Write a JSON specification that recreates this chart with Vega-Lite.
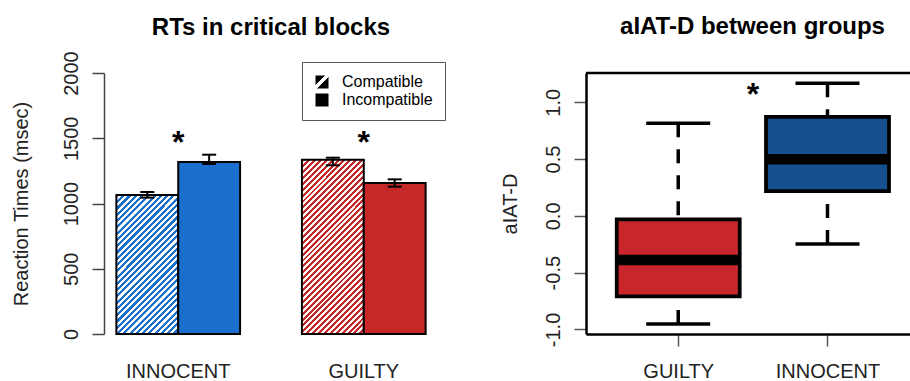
{
  "$schema": "https://vega.github.io/schema/vega-lite/v6.json",
  "background": "white",
  "padding": {"left": 10, "top": 14, "right": 0, "bottom": 0},
  "spacing": 148,
  "bounds": "flush",
  "config": {
    "font": "Liberation Sans",
    "view": {"stroke": null},
    "axis": {"labelFont": "Liberation Sans", "titleFont": "Liberation Sans", "grid": false, "labelFontSize": 20, "titleFontSize": 20, "titleFontWeight": "normal", "labelColor": "#222", "titleColor": "#222", "labelOverlap": false},
    "title": {"font": "Liberation Sans", "fontSize": 24, "fontWeight": "bold", "color": "black"}
  },
  "hconcat": [
    {
      "width": 334,
      "height": 261,
      "title": {"text": "RTs in critical blocks", "frame": "group", "anchor": "middle", "baseline": "alphabetic", "offset": -8},
      "data": {"values": [
        {"group": "INNOCENT", "block": "Compatible", "rt": 1065, "lo": 1045, "hi": 1088},
        {"group": "INNOCENT", "block": "Incompatible", "rt": 1318, "lo": 1303, "hi": 1374},
        {"group": "GUILTY", "block": "Compatible", "rt": 1335, "lo": 1293, "hi": 1351},
        {"group": "GUILTY", "block": "Incompatible", "rt": 1157, "lo": 1129, "hi": 1185}
      ]},
      "layer": [
        {
          "mark": {"type": "bar", "stroke": "black", "strokeWidth": 2, "strokeJoin": "miter", "opacity": 1},
          "encoding": {
            "x": {"field": "group", "type": "nominal", "sort": ["INNOCENT", "GUILTY"], "title": null,
                  "scale": {"paddingInner": 0.3333, "paddingOuter": 0.0667},
                  "axis": {"ticks": false, "tickSize": 0, "domain": false, "labelAngle": 0, "labelBaseline": "alphabetic", "labelPadding": 43.7}},
            "xOffset": {"field": "block", "type": "nominal", "sort": ["Compatible", "Incompatible"], "scale": {"paddingInner": 0, "paddingOuter": 0}},
            "y": {"field": "rt", "type": "quantitative", "title": "Reaction Times (msec)",
                  "scale": {"domain": [0, 2000], "nice": false},
                  "axis": {"values": [0, 500, 1000, 1500, 2000], "format": "d", "tickSize": 12, "labelAngle": -90, "labelAlign": "center", "labelBaseline": "alphabetic", "labelPadding": 15, "domainColor": "#444", "tickColor": "#444", "domainWidth": 1.5, "tickWidth": 1.5, "titleX": -77, "titleY": 130.5, "titleAngle": -90, "titleAlign": "center", "titleBaseline": "alphabetic"}},
            "fill": {
              "condition": [
                {"test": "datum.group === 'INNOCENT' && datum.block === 'Compatible'", "value": {"gradient": "linear", "x1": 0, "y1": 0, "x2": 0.5371, "y2": 1.2061, "stops": [
                  {"offset":0,"color":"#1b6fcc"},
                  {"offset":0.0156,"color":"#1b6fcc"},{"offset":0.0156,"color":"#fff"},
                  {"offset":0.0313,"color":"#fff"},{"offset":0.0313,"color":"#1b6fcc"},
                  {"offset":0.0469,"color":"#1b6fcc"},{"offset":0.0469,"color":"#fff"},
                  {"offset":0.0625,"color":"#fff"},{"offset":0.0625,"color":"#1b6fcc"},
                  {"offset":0.0781,"color":"#1b6fcc"},{"offset":0.0781,"color":"#fff"},
                  {"offset":0.0938,"color":"#fff"},{"offset":0.0938,"color":"#1b6fcc"},
                  {"offset":0.1094,"color":"#1b6fcc"},{"offset":0.1094,"color":"#fff"},
                  {"offset":0.125,"color":"#fff"},{"offset":0.125,"color":"#1b6fcc"},
                  {"offset":0.1406,"color":"#1b6fcc"},{"offset":0.1406,"color":"#fff"},
                  {"offset":0.1563,"color":"#fff"},{"offset":0.1563,"color":"#1b6fcc"},
                  {"offset":0.1719,"color":"#1b6fcc"},{"offset":0.1719,"color":"#fff"},
                  {"offset":0.1875,"color":"#fff"},{"offset":0.1875,"color":"#1b6fcc"},
                  {"offset":0.2031,"color":"#1b6fcc"},{"offset":0.2031,"color":"#fff"},
                  {"offset":0.2188,"color":"#fff"},{"offset":0.2188,"color":"#1b6fcc"},
                  {"offset":0.2344,"color":"#1b6fcc"},{"offset":0.2344,"color":"#fff"},
                  {"offset":0.25,"color":"#fff"},{"offset":0.25,"color":"#1b6fcc"},
                  {"offset":0.2656,"color":"#1b6fcc"},{"offset":0.2656,"color":"#fff"},
                  {"offset":0.2813,"color":"#fff"},{"offset":0.2813,"color":"#1b6fcc"},
                  {"offset":0.2969,"color":"#1b6fcc"},{"offset":0.2969,"color":"#fff"},
                  {"offset":0.3125,"color":"#fff"},{"offset":0.3125,"color":"#1b6fcc"},
                  {"offset":0.3281,"color":"#1b6fcc"},{"offset":0.3281,"color":"#fff"},
                  {"offset":0.3438,"color":"#fff"},{"offset":0.3438,"color":"#1b6fcc"},
                  {"offset":0.3594,"color":"#1b6fcc"},{"offset":0.3594,"color":"#fff"},
                  {"offset":0.375,"color":"#fff"},{"offset":0.375,"color":"#1b6fcc"},
                  {"offset":0.3906,"color":"#1b6fcc"},{"offset":0.3906,"color":"#fff"},
                  {"offset":0.4063,"color":"#fff"},{"offset":0.4063,"color":"#1b6fcc"},
                  {"offset":0.4219,"color":"#1b6fcc"},{"offset":0.4219,"color":"#fff"},
                  {"offset":0.4375,"color":"#fff"},{"offset":0.4375,"color":"#1b6fcc"},
                  {"offset":0.4531,"color":"#1b6fcc"},{"offset":0.4531,"color":"#fff"},
                  {"offset":0.4688,"color":"#fff"},{"offset":0.4688,"color":"#1b6fcc"},
                  {"offset":0.4844,"color":"#1b6fcc"},{"offset":0.4844,"color":"#fff"},
                  {"offset":0.5,"color":"#fff"},{"offset":0.5,"color":"#1b6fcc"},
                  {"offset":0.5156,"color":"#1b6fcc"},{"offset":0.5156,"color":"#fff"},
                  {"offset":0.5313,"color":"#fff"},{"offset":0.5313,"color":"#1b6fcc"},
                  {"offset":0.5469,"color":"#1b6fcc"},{"offset":0.5469,"color":"#fff"},
                  {"offset":0.5625,"color":"#fff"},{"offset":0.5625,"color":"#1b6fcc"},
                  {"offset":0.5781,"color":"#1b6fcc"},{"offset":0.5781,"color":"#fff"},
                  {"offset":0.5938,"color":"#fff"},{"offset":0.5938,"color":"#1b6fcc"},
                  {"offset":0.6094,"color":"#1b6fcc"},{"offset":0.6094,"color":"#fff"},
                  {"offset":0.625,"color":"#fff"},{"offset":0.625,"color":"#1b6fcc"},
                  {"offset":0.6406,"color":"#1b6fcc"},{"offset":0.6406,"color":"#fff"},
                  {"offset":0.6563,"color":"#fff"},{"offset":0.6563,"color":"#1b6fcc"},
                  {"offset":0.6719,"color":"#1b6fcc"},{"offset":0.6719,"color":"#fff"},
                  {"offset":0.6875,"color":"#fff"},{"offset":0.6875,"color":"#1b6fcc"},
                  {"offset":0.7031,"color":"#1b6fcc"},{"offset":0.7031,"color":"#fff"},
                  {"offset":0.7188,"color":"#fff"},{"offset":0.7188,"color":"#1b6fcc"},
                  {"offset":0.7344,"color":"#1b6fcc"},{"offset":0.7344,"color":"#fff"},
                  {"offset":0.75,"color":"#fff"},{"offset":0.75,"color":"#1b6fcc"},
                  {"offset":0.7656,"color":"#1b6fcc"},{"offset":0.7656,"color":"#fff"},
                  {"offset":0.7813,"color":"#fff"},{"offset":0.7813,"color":"#1b6fcc"},
                  {"offset":0.7969,"color":"#1b6fcc"},{"offset":0.7969,"color":"#fff"},
                  {"offset":0.8125,"color":"#fff"},{"offset":0.8125,"color":"#1b6fcc"},
                  {"offset":0.8281,"color":"#1b6fcc"},{"offset":0.8281,"color":"#fff"},
                  {"offset":0.8438,"color":"#fff"},{"offset":0.8438,"color":"#1b6fcc"},
                  {"offset":0.8594,"color":"#1b6fcc"},{"offset":0.8594,"color":"#fff"},
                  {"offset":0.875,"color":"#fff"},{"offset":0.875,"color":"#1b6fcc"},
                  {"offset":0.8906,"color":"#1b6fcc"},{"offset":0.8906,"color":"#fff"},
                  {"offset":0.9063,"color":"#fff"},{"offset":0.9063,"color":"#1b6fcc"},
                  {"offset":0.9219,"color":"#1b6fcc"},{"offset":0.9219,"color":"#fff"},
                  {"offset":0.9375,"color":"#fff"},{"offset":0.9375,"color":"#1b6fcc"},
                  {"offset":0.9531,"color":"#1b6fcc"},{"offset":0.9531,"color":"#fff"},
                  {"offset":0.9688,"color":"#fff"},{"offset":0.9688,"color":"#1b6fcc"},
                  {"offset":0.9844,"color":"#1b6fcc"},{"offset":0.9844,"color":"#fff"},
                  {"offset":1,"color":"#fff"}
                ]}},
                {"test": "datum.group === 'GUILTY' && datum.block === 'Compatible'", "value": {"gradient": "linear", "x1": 0, "y1": 0, "x2": 0.4276, "y2": 1.2033, "stops": [
                  {"offset":0,"color":"#c62828"},
                  {"offset":0.0125,"color":"#c62828"},{"offset":0.0125,"color":"#fff"},
                  {"offset":0.025,"color":"#fff"},{"offset":0.025,"color":"#c62828"},
                  {"offset":0.0375,"color":"#c62828"},{"offset":0.0375,"color":"#fff"},
                  {"offset":0.05,"color":"#fff"},{"offset":0.05,"color":"#c62828"},
                  {"offset":0.0625,"color":"#c62828"},{"offset":0.0625,"color":"#fff"},
                  {"offset":0.075,"color":"#fff"},{"offset":0.075,"color":"#c62828"},
                  {"offset":0.0875,"color":"#c62828"},{"offset":0.0875,"color":"#fff"},
                  {"offset":0.1,"color":"#fff"},{"offset":0.1,"color":"#c62828"},
                  {"offset":0.1125,"color":"#c62828"},{"offset":0.1125,"color":"#fff"},
                  {"offset":0.125,"color":"#fff"},{"offset":0.125,"color":"#c62828"},
                  {"offset":0.1375,"color":"#c62828"},{"offset":0.1375,"color":"#fff"},
                  {"offset":0.15,"color":"#fff"},{"offset":0.15,"color":"#c62828"},
                  {"offset":0.1625,"color":"#c62828"},{"offset":0.1625,"color":"#fff"},
                  {"offset":0.175,"color":"#fff"},{"offset":0.175,"color":"#c62828"},
                  {"offset":0.1875,"color":"#c62828"},{"offset":0.1875,"color":"#fff"},
                  {"offset":0.2,"color":"#fff"},{"offset":0.2,"color":"#c62828"},
                  {"offset":0.2125,"color":"#c62828"},{"offset":0.2125,"color":"#fff"},
                  {"offset":0.225,"color":"#fff"},{"offset":0.225,"color":"#c62828"},
                  {"offset":0.2375,"color":"#c62828"},{"offset":0.2375,"color":"#fff"},
                  {"offset":0.25,"color":"#fff"},{"offset":0.25,"color":"#c62828"},
                  {"offset":0.2625,"color":"#c62828"},{"offset":0.2625,"color":"#fff"},
                  {"offset":0.275,"color":"#fff"},{"offset":0.275,"color":"#c62828"},
                  {"offset":0.2875,"color":"#c62828"},{"offset":0.2875,"color":"#fff"},
                  {"offset":0.3,"color":"#fff"},{"offset":0.3,"color":"#c62828"},
                  {"offset":0.3125,"color":"#c62828"},{"offset":0.3125,"color":"#fff"},
                  {"offset":0.325,"color":"#fff"},{"offset":0.325,"color":"#c62828"},
                  {"offset":0.3375,"color":"#c62828"},{"offset":0.3375,"color":"#fff"},
                  {"offset":0.35,"color":"#fff"},{"offset":0.35,"color":"#c62828"},
                  {"offset":0.3625,"color":"#c62828"},{"offset":0.3625,"color":"#fff"},
                  {"offset":0.375,"color":"#fff"},{"offset":0.375,"color":"#c62828"},
                  {"offset":0.3875,"color":"#c62828"},{"offset":0.3875,"color":"#fff"},
                  {"offset":0.4,"color":"#fff"},{"offset":0.4,"color":"#c62828"},
                  {"offset":0.4125,"color":"#c62828"},{"offset":0.4125,"color":"#fff"},
                  {"offset":0.425,"color":"#fff"},{"offset":0.425,"color":"#c62828"},
                  {"offset":0.4375,"color":"#c62828"},{"offset":0.4375,"color":"#fff"},
                  {"offset":0.45,"color":"#fff"},{"offset":0.45,"color":"#c62828"},
                  {"offset":0.4625,"color":"#c62828"},{"offset":0.4625,"color":"#fff"},
                  {"offset":0.475,"color":"#fff"},{"offset":0.475,"color":"#c62828"},
                  {"offset":0.4875,"color":"#c62828"},{"offset":0.4875,"color":"#fff"},
                  {"offset":0.5,"color":"#fff"},{"offset":0.5,"color":"#c62828"},
                  {"offset":0.5125,"color":"#c62828"},{"offset":0.5125,"color":"#fff"},
                  {"offset":0.525,"color":"#fff"},{"offset":0.525,"color":"#c62828"},
                  {"offset":0.5375,"color":"#c62828"},{"offset":0.5375,"color":"#fff"},
                  {"offset":0.55,"color":"#fff"},{"offset":0.55,"color":"#c62828"},
                  {"offset":0.5625,"color":"#c62828"},{"offset":0.5625,"color":"#fff"},
                  {"offset":0.575,"color":"#fff"},{"offset":0.575,"color":"#c62828"},
                  {"offset":0.5875,"color":"#c62828"},{"offset":0.5875,"color":"#fff"},
                  {"offset":0.6,"color":"#fff"},{"offset":0.6,"color":"#c62828"},
                  {"offset":0.6125,"color":"#c62828"},{"offset":0.6125,"color":"#fff"},
                  {"offset":0.625,"color":"#fff"},{"offset":0.625,"color":"#c62828"},
                  {"offset":0.6375,"color":"#c62828"},{"offset":0.6375,"color":"#fff"},
                  {"offset":0.65,"color":"#fff"},{"offset":0.65,"color":"#c62828"},
                  {"offset":0.6625,"color":"#c62828"},{"offset":0.6625,"color":"#fff"},
                  {"offset":0.675,"color":"#fff"},{"offset":0.675,"color":"#c62828"},
                  {"offset":0.6875,"color":"#c62828"},{"offset":0.6875,"color":"#fff"},
                  {"offset":0.7,"color":"#fff"},{"offset":0.7,"color":"#c62828"},
                  {"offset":0.7125,"color":"#c62828"},{"offset":0.7125,"color":"#fff"},
                  {"offset":0.725,"color":"#fff"},{"offset":0.725,"color":"#c62828"},
                  {"offset":0.7375,"color":"#c62828"},{"offset":0.7375,"color":"#fff"},
                  {"offset":0.75,"color":"#fff"},{"offset":0.75,"color":"#c62828"},
                  {"offset":0.7625,"color":"#c62828"},{"offset":0.7625,"color":"#fff"},
                  {"offset":0.775,"color":"#fff"},{"offset":0.775,"color":"#c62828"},
                  {"offset":0.7875,"color":"#c62828"},{"offset":0.7875,"color":"#fff"},
                  {"offset":0.8,"color":"#fff"},{"offset":0.8,"color":"#c62828"},
                  {"offset":0.8125,"color":"#c62828"},{"offset":0.8125,"color":"#fff"},
                  {"offset":0.825,"color":"#fff"},{"offset":0.825,"color":"#c62828"},
                  {"offset":0.8375,"color":"#c62828"},{"offset":0.8375,"color":"#fff"},
                  {"offset":0.85,"color":"#fff"},{"offset":0.85,"color":"#c62828"},
                  {"offset":0.8625,"color":"#c62828"},{"offset":0.8625,"color":"#fff"},
                  {"offset":0.875,"color":"#fff"},{"offset":0.875,"color":"#c62828"},
                  {"offset":0.8875,"color":"#c62828"},{"offset":0.8875,"color":"#fff"},
                  {"offset":0.9,"color":"#fff"},{"offset":0.9,"color":"#c62828"},
                  {"offset":0.9125,"color":"#c62828"},{"offset":0.9125,"color":"#fff"},
                  {"offset":0.925,"color":"#fff"},{"offset":0.925,"color":"#c62828"},
                  {"offset":0.9375,"color":"#c62828"},{"offset":0.9375,"color":"#fff"},
                  {"offset":0.95,"color":"#fff"},{"offset":0.95,"color":"#c62828"},
                  {"offset":0.9625,"color":"#c62828"},{"offset":0.9625,"color":"#fff"},
                  {"offset":0.975,"color":"#fff"},{"offset":0.975,"color":"#c62828"},
                  {"offset":0.9875,"color":"#c62828"},{"offset":0.9875,"color":"#fff"},
                  {"offset":1,"color":"#fff"}
                ]}},
                {"test": "datum.group === 'INNOCENT'", "value": "#1b6fcc"}
              ],
              "value": "#c62828"
            }
          }
        },
        {
          "mark": {"type": "rule", "color": "black", "strokeWidth": 2, "opacity": 1},
          "encoding": {
            "x": {"field": "group", "type": "nominal", "sort": ["INNOCENT", "GUILTY"], "title": null},
            "xOffset": {"field": "block", "type": "nominal", "sort": ["Compatible", "Incompatible"]},
            "y": {"field": "lo", "type": "quantitative", "title": "Reaction Times (msec)"},
            "y2": {"field": "hi"}
          }
        },
        {
          "mark": {"type": "tick", "orient": "horizontal", "color": "black", "size": 14, "thickness": 2, "opacity": 1},
          "encoding": {
            "x": {"field": "group", "type": "nominal", "sort": ["INNOCENT", "GUILTY"], "title": null},
            "xOffset": {"field": "block", "type": "nominal", "sort": ["Compatible", "Incompatible"]},
            "y": {"field": "lo", "type": "quantitative", "title": "Reaction Times (msec)"}
          }
        },
        {
          "mark": {"type": "tick", "orient": "horizontal", "color": "black", "size": 14, "thickness": 2, "opacity": 1},
          "encoding": {
            "x": {"field": "group", "type": "nominal", "sort": ["INNOCENT", "GUILTY"], "title": null},
            "xOffset": {"field": "block", "type": "nominal", "sort": ["Compatible", "Incompatible"]},
            "y": {"field": "hi", "type": "quantitative", "title": "Reaction Times (msec)"}
          }
        },
        {
          "mark": {"type": "text", "font": "Liberation Sans", "fontSize": 16},
          "encoding": {
            "x": {"field": "group", "type": "nominal", "sort": ["INNOCENT", "GUILTY"], "title": null},
            "y": {"field": "rt", "type": "quantitative", "title": "Reaction Times (msec)"},
            "text": {"value": ""},
            "fill": {
              "field": "block", "type": "nominal", "sort": ["Compatible", "Incompatible"],
              "scale": {"domain": ["Compatible", "Incompatible"], "range": [
                {"expr": "{gradient: 'linear', x1: 0, y1: 0, x2: 1, y2: 1, stops: [{offset: 0, color: 'black'}, {offset: 0.36, color: 'black'}, {offset: 0.36, color: 'white'}, {offset: 0.56, color: 'white'}, {offset: 0.56, color: 'black'}, {offset: 1, color: 'black'}]}"},
                "black"
              ]},
              "legend": {
                "title": null, "orient": "none", "legendX": 198, "legendY": -11,
                "symbolType": "square", "symbolSize": 169, "symbolStrokeWidth": 0, "symbolOpacity": 1,
                "labelFont": "Liberation Sans", "labelFontSize": 16, "labelColor": "black", "labelOffset": 12,
                "padding": 12, "rowPadding": 2, "strokeColor": "#555", "fillColor": "white"
              }
            }
          }
        },
        {
          "data": {"values": [
            {"group": "INNOCENT", "ay": 1386, "label": "*"},
            {"group": "GUILTY", "ay": 1386, "label": "*"}
          ]},
          "mark": {"type": "text", "font": "Liberation Sans", "fontSize": 32, "fontWeight": "bold", "baseline": "alphabetic", "align": "center", "color": "black"},
          "encoding": {
            "x": {"field": "group", "type": "nominal", "sort": ["INNOCENT", "GUILTY"], "title": null},
            "y": {"field": "ay", "type": "quantitative", "title": "Reaction Times (msec)"},
            "text": {"field": "label"}
          }
        }
      ]
    },
    {
      "width": 325,
      "height": 261,
      "title": {"text": "aIAT-D between groups", "frame": "group", "anchor": "middle", "dx": 4, "baseline": "alphabetic", "offset": 14.2},
      "data": {"values": [
        {"group": "GUILTY", "pos": 1, "lo": -0.953, "q1": -0.708, "med": -0.388, "q3": -0.03, "hi": 0.815},
        {"group": "INNOCENT", "pos": 2, "lo": -0.247, "q1": 0.219, "med": 0.498, "q3": 0.871, "hi": 1.167}
      ]},
      "layer": [
        {
          "mark": {"type": "rule", "color": "black", "strokeWidth": 3.5, "strokeDash": [14, 12], "opacity": 1},
          "encoding": {
            "x": {"field": "pos", "type": "quantitative", "title": null,
                  "scale": {"domain": [0.4156, 2.526], "nice": false, "zero": false},
                  "axis": {"values": [1, 2], "labelExpr": "datum.value === 1 ? 'GUILTY' : 'INNOCENT'", "tickSize": 12, "tickColor": "#555", "tickWidth": 1.5, "domainColor": "black", "domainWidth": 2.5, "labelPadding": 31.7, "labelBaseline": "alphabetic", "labelFlush": false, "labelAngle": 0}},
            "y": {"field": "lo", "type": "quantitative", "title": "aIAT-D",
                  "scale": {"domain": [-1.04, 1.258], "nice": false, "zero": false},
                  "axis": {"values": [-1, -0.5, 0, 0.5, 1], "labelExpr": "datum.value < 0 ? '-' + format(-datum.value, '.1f') : format(datum.value, '.1f')", "tickSize": 12, "tickColor": "#555", "tickWidth": 1.5, "domainColor": "black", "domainWidth": 2.5, "labelAngle": -90, "labelAlign": "center", "labelBaseline": "alphabetic", "labelPadding": 15, "titleX": -70, "titleY": 130.5, "titleAngle": -90, "titleAlign": "center", "titleBaseline": "alphabetic"}},
            "y2": {"field": "q1"}
          }
        },
        {
          "mark": {"type": "rule", "color": "black", "strokeWidth": 3.5, "strokeDash": [14, 12], "opacity": 1},
          "encoding": {
            "x": {"field": "pos", "type": "quantitative", "title": null},
            "y": {"field": "hi", "type": "quantitative", "title": "aIAT-D"},
            "y2": {"field": "q3"}
          }
        },
        {
          "mark": {"type": "tick", "orient": "horizontal", "color": "black", "size": 64, "thickness": 3.5, "opacity": 1},
          "encoding": {
            "x": {"field": "pos", "type": "quantitative", "title": null},
            "y": {"field": "lo", "type": "quantitative", "title": "aIAT-D"}
          }
        },
        {
          "mark": {"type": "tick", "orient": "horizontal", "color": "black", "size": 64, "thickness": 3.5, "opacity": 1},
          "encoding": {
            "x": {"field": "pos", "type": "quantitative", "title": null},
            "y": {"field": "hi", "type": "quantitative", "title": "aIAT-D"}
          }
        },
        {
          "mark": {"type": "bar", "width": 123, "stroke": "black", "strokeWidth": 3.75, "strokeJoin": "miter", "opacity": 1},
          "encoding": {
            "x": {"field": "pos", "type": "quantitative", "title": null},
            "y": {"field": "q1", "type": "quantitative", "title": "aIAT-D"},
            "y2": {"field": "q3"},
            "fill": {"condition": {"test": "datum.group === 'GUILTY'", "value": "#c8262a"}, "value": "#164f8e"}
          }
        },
        {
          "mark": {"type": "tick", "orient": "horizontal", "color": "black", "size": 123, "thickness": 10.5, "opacity": 1},
          "encoding": {
            "x": {"field": "pos", "type": "quantitative", "title": null},
            "y": {"field": "med", "type": "quantitative", "title": "aIAT-D"}
          }
        },
        {
          "data": {"values": [{"pos": 1.5, "ay": 0.976, "label": "*"}]},
          "mark": {"type": "text", "font": "Liberation Sans", "fontSize": 32, "fontWeight": "bold", "baseline": "alphabetic", "align": "center", "color": "black"},
          "encoding": {
            "x": {"field": "pos", "type": "quantitative", "title": null},
            "y": {"field": "ay", "type": "quantitative", "title": "aIAT-D"},
            "text": {"field": "label"}
          }
        },
        {
          "data": {"values": [{}]},
          "mark": {"type": "rule", "color": "black", "strokeWidth": 2.5, "opacity": 1},
          "encoding": {
            "y": {"datum": 1.258, "type": "quantitative"}
          }
        }
      ]
    }
  ]
}
